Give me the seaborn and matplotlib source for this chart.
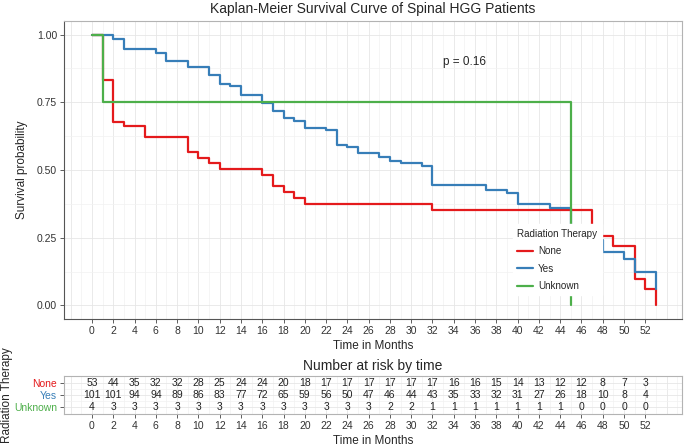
import numpy as np
import pandas as pd
import matplotlib
matplotlib.use('Agg')
import matplotlib.pyplot as plt
import seaborn as sns

# survival step curves (time in months, survival prob)
none_t = [0, 1, 2, 3, 5, 9, 10, 11, 12, 16, 17, 18, 19, 20, 32, 47, 49, 51, 52, 53]
none_s = [1.0, 0.833, 0.679, 0.662, 0.622, 0.566, 0.545, 0.524, 0.502, 0.481, 0.44,
          0.418, 0.395, 0.373, 0.352, 0.256, 0.221, 0.096, 0.062, 0.0]
yes_t = [0, 2, 3, 6, 7, 9, 11, 12, 13, 14, 16, 17, 18, 19, 20, 22, 23, 24, 25, 27, 28,
         29, 31, 32, 37, 39, 40, 43, 45, 47, 48, 50, 51, 53]
yes_s = [1.0, 0.982, 0.945, 0.932, 0.904, 0.881, 0.852, 0.819, 0.81, 0.778, 0.748, 0.717,
         0.693, 0.68, 0.656, 0.647, 0.594, 0.584, 0.561, 0.549, 0.535, 0.526, 0.514, 0.443,
         0.428, 0.416, 0.373, 0.36, 0.28, 0.24, 0.198, 0.172, 0.123, 0.062]
unk_t = [0, 1, 45]
unk_s = [1.0, 0.75, 0.0]

groups = ['None', 'Yes', 'Unknown']
colors = {'None': '#E41A1C', 'Yes': '#377EB8', 'Unknown': '#4DAF4A'}

# number at risk table
risk_times = list(range(0, 53, 2))
risk_none = [53, 44, 35, 32, 32, 28, 25, 24, 24, 20, 18, 17, 17, 17, 17, 17, 17, 16, 16,
             15, 14, 13, 12, 12, 8, 7, 3]
risk_yes = [101, 101, 94, 94, 89, 86, 83, 77, 72, 65, 59, 56, 50, 47, 46, 44, 43, 35, 33,
            32, 31, 27, 26, 18, 10, 8, 4]
risk_unk = [4, 3, 3, 3, 3, 3, 3, 3, 3, 3, 3, 3, 3, 3, 2, 2, 1, 1, 1, 1, 1, 1, 1, 0, 0, 0, 0]

curves = pd.concat([
    pd.DataFrame({'time': none_t, 'surv': none_s, 'group': 'None'}),
    pd.DataFrame({'time': yes_t, 'surv': yes_s, 'group': 'Yes'}),
    pd.DataFrame({'time': unk_t, 'surv': unk_s, 'group': 'Unknown'}),
], ignore_index=True)

sns.set_theme(style='white')
plt.rcParams['font.family'] = ['Liberation Sans', 'DejaVu Sans']

fig = plt.figure(figsize=(6.85, 4.47), dpi=100)
W, H = 685, 447

def px_axes(l, t, r, b):
    return fig.add_axes([l / W, 1 - b / H, (r - l) / W, (b - t) / H])

ax = px_axes(64, 21, 682, 319)
xlim = (-2.63, 55.45)

def style_panel(a, ymajor, yminor):
    for x in range(-2, 56):
        if x % 2 == 0:
            a.axvline(x, color='#e6e6e6', lw=0.6, zorder=0)
        else:
            a.axvline(x, color='#f2f2f2', lw=0.5, zorder=0)
    for y in ymajor:
        a.axhline(y, color='#e6e6e6', lw=0.6, zorder=0)
    for y in yminor:
        a.axhline(y, color='#f2f2f2', lw=0.5, zorder=0)
    for s in a.spines.values():
        s.set_color('#b3b3b3')
        s.set_linewidth(0.8)
    a.tick_params(axis='both', which='major', length=3, width=0.6, color='#444444',
                  labelsize=7.5, labelcolor='#333333', pad=2, left=True, bottom=True)
    a.set_xlim(*xlim)
    a.set_xticks(risk_times)

style_panel(ax, [0, 0.25, 0.5, 0.75, 1.0], [0.125, 0.375, 0.625, 0.875])
ax.spines['left'].set_color('#555555')
ax.spines['bottom'].set_color('#555555')

sns.lineplot(data=curves, x='time', y='surv', hue='group', hue_order=groups,
             palette=colors, estimator=None, sort=False, drawstyle='steps-post',
             lw=1.6, ax=ax, zorder=3)

ax.set_ylim(-0.05, 1.05)
ax.set_yticks([0, 0.25, 0.5, 0.75, 1.0])
ax.set_yticklabels(['0.00', '0.25', '0.50', '0.75', '1.00'])
ax.set_xlabel('Time in Months', fontsize=8.5, labelpad=3)
ax.set_ylabel('Survival probability', fontsize=8.5, labelpad=6)
ax.set_title('Kaplan-Meier Survival Curve of Spinal HGG Patients', fontsize=10, pad=6)
ax.text(35, 0.9, 'p = 0.16', fontsize=8.5, ha='center', va='center', zorder=5)

leg = ax.legend(title='Radiation Therapy', loc='upper left', bbox_to_anchor=(0.718, 0.334),
                frameon=True, fancybox=False, framealpha=1, facecolor='white',
                edgecolor='white', fontsize=7.1, title_fontsize=7.1, handlelength=1.6,
                handletextpad=0.5, labelspacing=0.75, borderpad=0.45)
leg._legend_box.align = 'left'
leg.set_zorder(10)

# risk table
rax = px_axes(64, 376, 682, 414)
style_panel(rax, [0, 1, 2], [0.5, 1.5])
rax.set_ylim(2.6, -0.6)
for row, vals in enumerate([risk_none, risk_yes, risk_unk]):
    for t, v in zip(risk_times, vals):
        rax.text(t, row, str(v), ha='center', va='center', fontsize=7.5, color='#222222')
rax.set_yticks([0, 1, 2])
rax.set_yticklabels(groups)
for lab, g in zip(rax.get_yticklabels(), groups):
    lab.set_color(colors[g])
rax.set_xlabel('Time in Months', fontsize=8.5, labelpad=3)
rax.set_ylabel('Radiation Therapy', fontsize=8.5, labelpad=4)
rax.yaxis.set_label_coords(-0.082, 0.5)
rax.set_title('Number at risk by time', fontsize=10, pad=4)

fig.savefig('out.png', dpi=100, facecolor='white')
